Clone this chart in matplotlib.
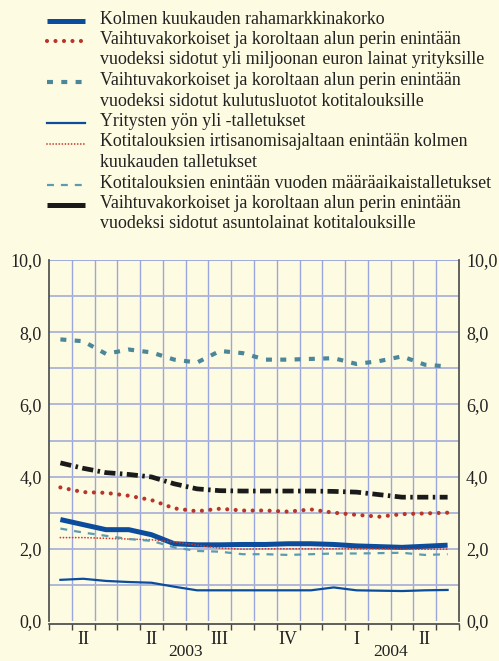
import matplotlib
matplotlib.use("Agg")
import matplotlib.pyplot as plt
from matplotlib.lines import Line2D
import numpy as np

plt.rcParams['font.family'] = ['Liberation Serif', 'DejaVu Serif']
plt.rcParams['lines.scale_dashes'] = False

W, H = 499, 661
BG = '#fefbe3'
TXT = '#222222'

# ---- data (monthly, Jan 2003 .. Jun 2004) ----
months = np.arange(18)
rahamarkkinakorko = [2.81, 2.67, 2.53, 2.53, 2.39, 2.14, 2.11, 2.11, 2.12,
                     2.12, 2.14, 2.14, 2.12, 2.08, 2.06, 2.04, 2.07, 2.10]
lainat_yrityksille = [3.70, 3.57, 3.55, 3.47, 3.35, 3.12, 3.04, 3.11, 3.06,
                      3.06, 3.03, 3.09, 3.00, 2.94, 2.89, 2.96, 2.98, 3.00]
kulutusluotot = [7.80, 7.75, 7.40, 7.52, 7.44, 7.24, 7.16, 7.48, 7.42,
                 7.24, 7.24, 7.26, 7.28, 7.12, 7.20, 7.33, 7.10, 7.05]
yon_yli = [1.14, 1.17, 1.11, 1.08, 1.06, 0.95, 0.85, 0.85, 0.85,
           0.85, 0.85, 0.85, 0.93, 0.85, 0.84, 0.83, 0.85, 0.86]
irtisanomis = [2.31, 2.31, 2.29, 2.27, 2.25, 2.19, 2.10, 2.02, 1.99,
               2.00, 2.00, 2.00, 2.00, 2.00, 2.00, 1.99, 1.99, 1.99]
maaraaikais = [2.56, 2.45, 2.36, 2.27, 2.22, 2.04, 1.94, 1.92, 1.85,
               1.85, 1.83, 1.85, 1.87, 1.87, 1.88, 1.89, 1.83, 1.85]
asuntolainat = [4.38, 4.23, 4.11, 4.06, 3.99, 3.80, 3.66, 3.61, 3.60,
                3.60, 3.60, 3.60, 3.59, 3.57, 3.50, 3.43, 3.43, 3.43]

quarter_labels = ['II', 'II', 'III', 'IV', 'I', 'II']
year_labels = ['2003', '2004']
ytick_vals = [0, 2, 4, 6, 8, 10]
ytick_labels = ['0,0', '2,0', '4,0', '6,0', '8,0', '10,0']

legend_texts = [
    ['Kolmen kuukauden rahamarkkinakorko'],
    ['Vaihtuvakorkoiset ja koroltaan alun perin enintään',
     'vuodeksi sidotut yli miljoonan euron lainat yrityksille'],
    ['Vaihtuvakorkoiset ja koroltaan alun perin enintään',
     'vuodeksi sidotut kulutusluotot kotitalouksille'],
    ['Yritysten yön yli -talletukset'],
    ['Kotitalouksien irtisanomisajaltaan enintään kolmen',
     'kuukauden talletukset'],
    ['Kotitalouksien enintään vuoden määräaikaistalletukset'],
    ['Vaihtuvakorkoiset ja koroltaan alun perin enintään',
     'vuodeksi sidotut asuntolainat kotitalouksille'],
]

# ---- styles ----
BLUE = '#0b4c9c'
RED = '#b8352a'
TEAL = '#4b8799'
TEAL2 = '#5d9bb0'
BLACK = '#1a1a1a'
styles = [
    dict(color=BLUE, lw=3.6, ls='-', solid_capstyle='butt'),
    dict(color=RED, lw=3.0, ls=(0, (0.01, 6.1)), dash_capstyle='round'),
    dict(color=TEAL, lw=3.0, ls=(0, (4.3, 6.0)), dash_capstyle='butt'),
    dict(color=BLUE, lw=1.6, ls='-'),
    dict(color='#cc3a2c', lw=1.3, ls=(0, (0.01, 2.2)), dash_capstyle='round'),
    dict(color=TEAL2, lw=1.6, ls=(0, (5.0, 5.0)), dash_capstyle='butt'),
    dict(color=BLACK, lw=3.4, ls=(0, (8.0, 3.2, 1.8, 3.2)), dash_capstyle='butt'),
]
legend_handle_styles = [
    styles[0], styles[1], styles[2], styles[3], styles[4], styles[5],
    dict(color=BLACK, lw=3.6, ls='-', solid_capstyle='butt'),
]
series = [rahamarkkinakorko, lainat_yrityksille, kulutusluotot, yon_yli,
          irtisanomis, maaraaikais, asuntolainat]

fig = plt.figure(figsize=(W / 100, H / 100), dpi=100, facecolor=BG)

def fx(x):
    return x / W

def fy(y):
    return 1 - y / H

# ---- axes ----
left, right, top, bottom = 49, 459, 260, 621
ax = fig.add_axes([fx(left), fy(bottom), fx(right - left), (bottom - top) / H])
ax.set_facecolor(BG)
ax.set_xlim(0, 18)
ax.set_ylim(0, 10)

for x in range(1, 18):
    ax.axvline(x, color='#9ba6dc', lw=1.0, zorder=1)
for y in range(1, 11):
    ax.axhline(y, color='#aab2d8' if y < 10 else '#97a3dc', lw=1.3, zorder=1)

xs = months + 0.5
draw_order = [2, 6, 1, 5, 4, 0, 3]
for i in draw_order:
    ax.plot(xs, series[i], zorder=3 + i, **styles[i])

ax.spines['top'].set_visible(False)
for s in ['left', 'right']:
    ax.spines[s].set_color('#555555')
    ax.spines[s].set_linewidth(1.3)
ax.spines['bottom'].set_color('#444444')
ax.spines['bottom'].set_linewidth(1.2)
ax.spines['bottom'].set_position(('outward', 2))

ax.set_xticks(range(0, 19))
ax.set_xticklabels([])
ax.tick_params(axis='x', which='major', direction='out', length=4, width=1.0,
               color='#444444')
ax.set_xticks([1.5 + 3 * k for k in range(6)], minor=True)
ax.set_xticklabels(quarter_labels, minor=True)
ax.tick_params(axis='x', which='minor', length=0, pad=5, labelsize=13,
               labelcolor=TXT)

ax.set_yticks(ytick_vals)
ax.set_yticklabels(ytick_labels)
ax.tick_params(axis='y', length=0, labelsize=13, labelcolor=TXT, pad=5,
               labelleft=True, labelright=True)

trans = ax.get_xaxis_transform()
for lbl, xc in zip(year_labels, [6.0, 15.0]):
    ax.text(xc, -0.086, lbl, transform=trans, ha='center', va='center',
            fontsize=12.5, color=TXT)

# ---- legend drawn in figure coords ----
text_x = 100
y0 = 19
row_h = 20.5
row = 0
for k, lines in enumerate(legend_texts):
    yc = y0 + row * row_h
    st = legend_handle_styles[k]
    fig.add_artist(Line2D([fx(47), fx(85)], [fy(yc + 1.5), fy(yc + 1.5)],
                          transform=fig.transFigure, **st))
    for j, t in enumerate(lines):
        fig.text(fx(text_x), fy(yc + j * row_h), t, ha='left', va='center',
                 fontsize=12.9, color=TXT)
    row += len(lines)

fig.savefig('out.png', dpi=100, facecolor=BG)
